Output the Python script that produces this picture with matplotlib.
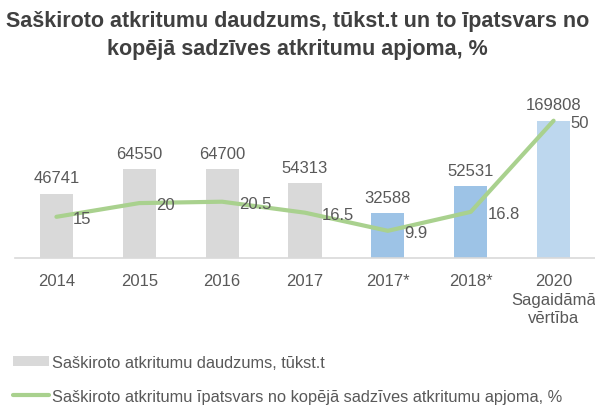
import matplotlib.pyplot as plt

plt.rcParams['font.family'] = ['Liberation Sans', 'DejaVu Sans']

# data
years = ["2014", "2015", "2016", "2017", "2017*", "2018*", "2020\nSagaidāmā\nvērtība"]
amount = [46741, 64550, 64700, 54313, 32588, 52531, 169808]   # tūkst.t
share = [15, 20, 20.5, 16.5, 9.9, 16.8, 50]                    # %

bar_colors = ["#D9D9D9"] * 4 + ["#9DC3E6", "#9DC3E6", "#BDD7EE"]
text_col = "#595959"

fig = plt.figure(figsize=(5.95, 4.06), dpi=100)
ax = fig.add_axes([15 / 595, 1 - 259 / 406, 580 / 595, 137.3 / 406])
ax2 = ax.twinx()

x = list(range(len(years)))
bars = ax.bar(x, amount, width=0.4, color=bar_colors, zorder=1,
              label="Saškiroto atkritumu daudzums, tūkst.t")
ymax = 100000  # the 2020 bar runs past the top and gets clipped, like the original
ax.set_ylim(0, ymax)
ax.set_xlim(-0.5, len(years) - 0.5)

for i, v in enumerate(amount):
    ax.annotate(str(v), (i, min(v, ymax)), xytext=(0, 6), textcoords="offset points",
                ha="center", va="bottom", fontsize=12, color=text_col, annotation_clip=False)

line, = ax2.plot(x, share, color="#A9D18E", lw=3, solid_joinstyle="round",
                 solid_capstyle="round", clip_on=False, zorder=3,
                 label="Saškiroto atkritumu īpatsvars no kopējā sadzīves atkritumu apjoma, %")
ax2.set_ylim(0, 50)
for i, p in enumerate(share):
    ax2.annotate(f"{p:g}", (i, p), xytext=(12, -1), textcoords="offset points",
                 ha="left", va="center", fontsize=12, color=text_col, annotation_clip=False)

for a in (ax, ax2):
    for s in ("top", "right", "left"):
        a.spines[s].set_visible(False)
    a.set_yticks([])
ax2.spines["bottom"].set_visible(False)
ax.spines["bottom"].set_color("#D9D9D9")
ax.spines["bottom"].set_linewidth(1.2)
ax.set_xticks(x)
ax.set_xticklabels(years, fontsize=12, color=text_col, linespacing=1.3)
ax.tick_params(axis="x", length=0, pad=11)

fig.text(0.5, 1 - 22 / 406, "Saškiroto atkritumu daudzums, tūkst.t un to īpatsvars no",
         ha="center", va="center", fontsize=15.5, fontweight="bold", color="#404040")
fig.text(0.5, 1 - 50 / 406, "kopējā sadzīves atkritumu apjoma, %",
         ha="center", va="center", fontsize=15.5, fontweight="bold", color="#404040")

fig.legend(handles=[bars, line], loc="upper left", bbox_to_anchor=(13 / 595, 1 - 356 / 406),
           frameon=False, fontsize=11.8, labelcolor=text_col, handlelength=2.2,
           handleheight=0.55, handletextpad=0.15, labelspacing=1.15, borderpad=0,
           borderaxespad=0)

fig.savefig("out.png", dpi=100)
